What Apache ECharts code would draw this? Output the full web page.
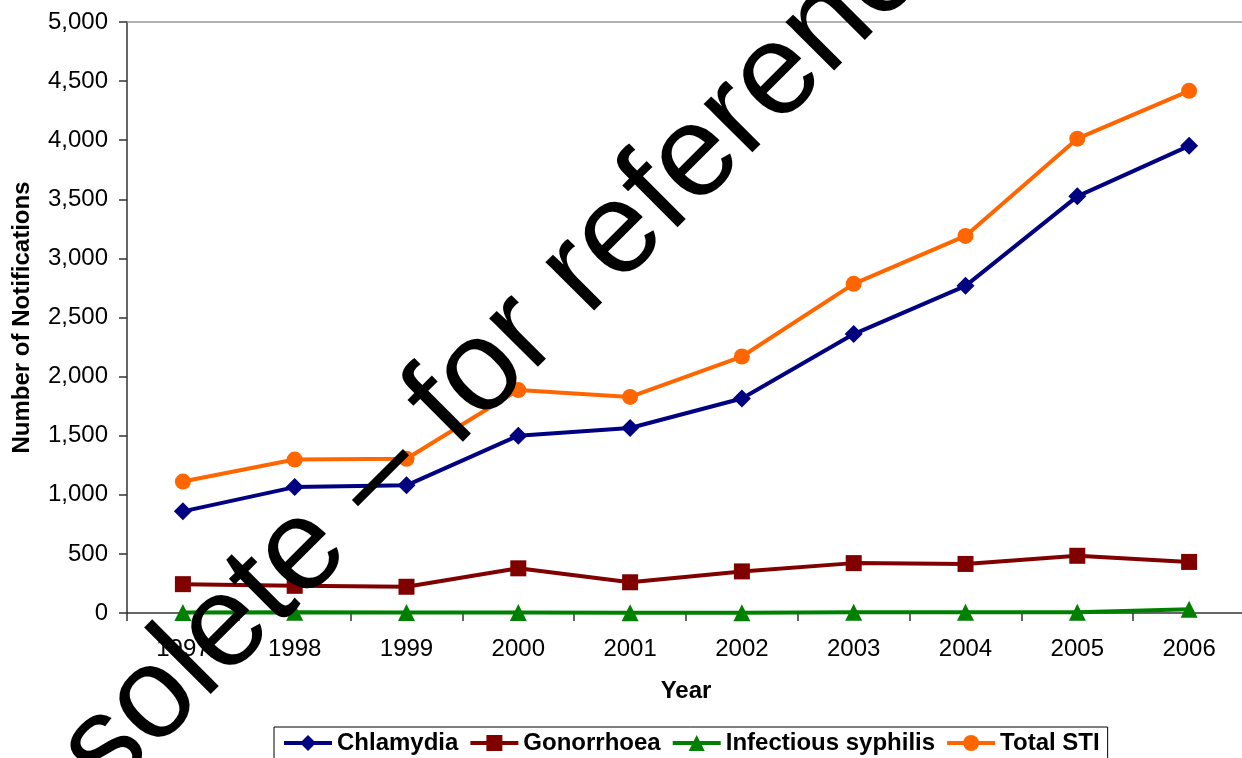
<!DOCTYPE html>
<html>
<head>
<meta charset="utf-8">
<script src="https://cdn.jsdelivr.net/npm/echarts@6/dist/echarts.min.js"></script>
<style>
html,body{margin:0;padding:0;background:#fff;}
#chart{width:1242px;height:758px;}
</style>
</head>
<body>
<div id="chart"></div>
<script>
var years = ['1997','1998','1999','2000','2001','2002','2003','2004','2005','2006'];
var chlamydia = [860, 1065, 1080, 1500, 1565, 1815, 2360, 2768, 3525, 3952];
var gonorrhoea = [244, 230, 222, 378, 260, 352, 422, 415, 484, 432];
var syphilis = [5, 6, 5, 5, 3, 3, 6, 6, 6, 32];
var totalSTI = [1112, 1298, 1305, 1886, 1828, 2170, 2785, 3190, 4013, 4418];
var yTicks = {min: 0, max: 5000, interval: 500};
var watermarkText = 'Obsolete \u2013 for reference';

var FONT = '"Liberation Sans", Arial, sans-serif';
var chart = echarts.init(document.getElementById('chart'));

function lineSeries(name, data, color, symbol, size) {
  return {
    name: name, type: 'line', data: data,
    symbol: symbol, symbolSize: size,
    lineStyle: {color: color, width: 4},
    itemStyle: {color: color},
    emphasis: {disabled: true},
    animation: false
  };
}

chart.setOption({
  backgroundColor: '#fff',
  animation: false,
  textStyle: {fontFamily: FONT},
  grid: {left: 127, top: 22, width: 1118, height: 591, outerBoundsMode: 'none', containLabel: false},
  legend: {
    left: 274, top: 727,
    padding: [4, 8],
    itemGap: 10,
    itemWidth: 48, itemHeight: 20,
    borderColor: '#000', borderWidth: 1,
    backgroundColor: '#fff',
    lineStyle: {width: 4},
    textStyle: {fontFamily: FONT, fontSize: 24, fontWeight: 'bold', color: '#000'},
    data: ['Chlamydia', 'Gonorrhoea', 'Infectious syphilis', 'Total STI']
  },
  xAxis: [{
    type: 'category', data: years, boundaryGap: true,
    name: 'Year', nameLocation: 'middle', nameGap: 66,
    nameTextStyle: {fontFamily: FONT, fontSize: 24, fontWeight: 'bold', color: '#000'},
    axisLine: {lineStyle: {color: '#333', width: 1.5}},
    axisTick: {show: true, length: 8, lineStyle: {color: '#333', width: 1.5}},
    axisLabel: {fontFamily: FONT, fontSize: 24, color: '#000', margin: 24},
    splitLine: {show: false}
  }, {
    type: 'category', data: years, boundaryGap: true, position: 'top',
    axisLine: {show: true, lineStyle: {color: '#999', width: 1.5}},
    axisTick: {show: false}, axisLabel: {show: false}, splitLine: {show: false}
  }],
  yAxis: {
    type: 'value', min: yTicks.min, max: yTicks.max, interval: yTicks.interval,
    name: 'Number of Notifications', nameLocation: 'middle', nameGap: 93,
    nameTextStyle: {fontFamily: FONT, fontSize: 24, fontWeight: 'bold', color: '#000'},
    axisLine: {show: true, lineStyle: {color: '#333', width: 1.5}},
    axisTick: {show: true, length: 8, lineStyle: {color: '#333', width: 1.5}},
    axisLabel: {fontFamily: FONT, fontSize: 24, color: '#000', margin: 19,
      formatter: function (v) { return v.toLocaleString('en-US'); }},
    splitLine: {show: false}
  },
  series: [
    lineSeries('Chlamydia', chlamydia, '#000080', 'diamond', 18),
    lineSeries('Gonorrhoea', gonorrhoea, '#800000', 'rect', 16),
    lineSeries('Infectious syphilis', syphilis, '#008000', 'triangle', 17),
    lineSeries('Total STI', totalSTI, '#FF6600', 'circle', 16)
  ],
  graphic: [{
    type: 'text',
    x: 455, y: 399,
    rotation: Math.PI / 4,
    z: 1000,
    silent: true,
    style: {
      text: watermarkText,
      x: 0, y: 0,
      fill: '#000',
      font: '130px "Liberation Sans", Arial, sans-serif',
      align: 'center',
      verticalAlign: 'middle'
    }
  }]
});
</script>
</body>
</html>
